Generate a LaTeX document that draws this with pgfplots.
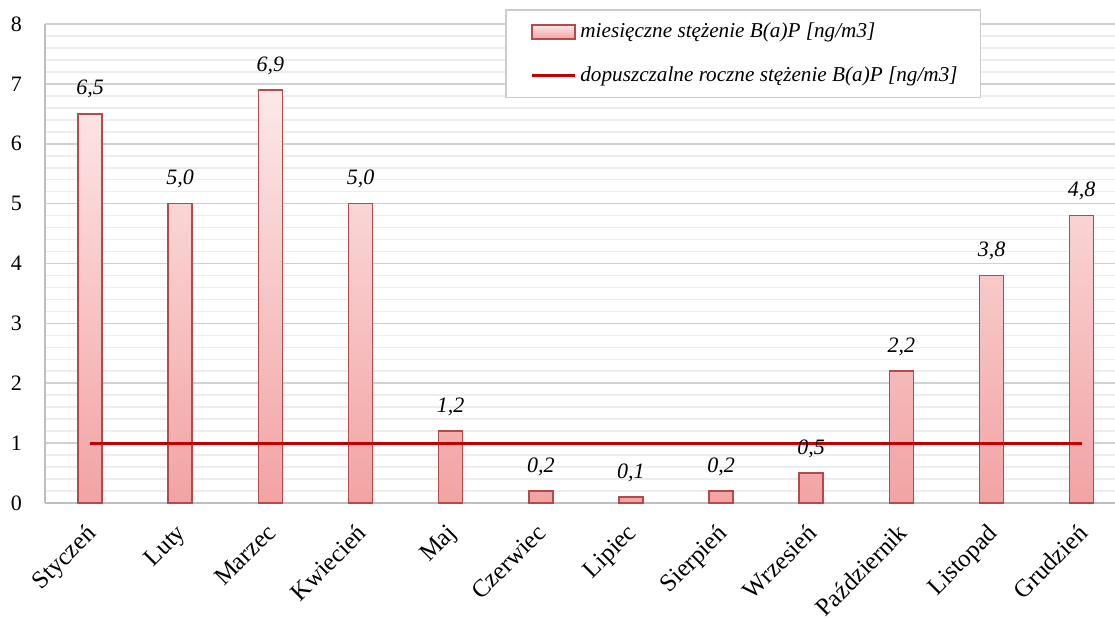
\documentclass[border=0pt]{standalone}
\usepackage{pgfplots}
\pgfplotsset{compat=1.18}
\usepackage{fontspec}
\setmainfont{Liberation Serif}
\definecolor{barborder}{HTML}{B54A4A}
\definecolor{bartop}{HTML}{FCE8E8}
\definecolor{barbot}{HTML}{F2A3A3}
\definecolor{limred}{HTML}{C00000}
\begin{document}
\begin{tikzpicture}
\begin{axis}[
 at={(0,0)}, anchor=south west,
 scale only axis, width=535pt, height=239.5pt,
 xmin=-0.5, xmax=11.37, ymin=0, ymax=8,
 xtick={0,...,11},
 xticklabels={Styczeń,Luty,Marzec,Kwiecień,Maj,Czerwiec,Lipiec,Sierpień,Wrzesień,Październik,Listopad,Grudzień},
 ytick={0,...,8}, minor y tick num=4,
 ymajorgrids, yminorgrids,
 major grid style={draw=black!18, line width=0.8pt},
 minor grid style={draw=black!7, line width=0.8pt},
 axis x line*=bottom, axis y line*=left,
 axis line style={draw=black!25, line width=0.8pt, -},
 major tick length=0pt, minor tick length=0pt,
 y tick label style={font=\fontsize{11}{12}\selectfont, xshift=-8pt},
 /pgf/number format/assume math mode=true,
 x tick label style={font=\fontsize{12.4}{14}\selectfont, xshift=-2.5pt, yshift=-6.8pt, rotate=45, anchor=north east, inner sep=2pt},
 legend cell align=left,
 legend style={at={(0.43,1.031)}, anchor=north west, draw=black!20, line width=0.8pt, fill=white,
   font=\itshape\fontsize{10.6}{12}\selectfont, row sep=9pt, inner xsep=9.5pt, inner ysep=4.5pt},
]
\addplot[ybar, bar width=12pt, draw=barborder, line width=0.8pt, top color=bartop, bottom color=barbot,
  nodes near coords={\pgfmathprintnumber[assume math mode=true,use comma,fixed,fixed zerofill,precision=1]{\pgfplotspointmeta}},
  every node near coord/.append style={font=\itshape\fontsize{11}{12}\selectfont, yshift=4pt},
  legend image code/.code={\path[draw=none,fill=none] (0pt,0pt) -- (3.5pt,0pt); \draw[draw=barborder, top color=bartop, bottom color=barbot, line width=0.8pt] (3.5pt,-3.5pt) rectangle (25pt,3.5pt);}]
 coordinates {(0,6.5) (1,5.0) (2,6.9) (3,5.0) (4,1.2) (5,0.2) (6,0.1) (7,0.2) (8,0.5) (9,2.2) (10,3.8) (11,4.8)};
\addlegendentry{miesięczne stężenie B(a)P [ng/m3]}
\addplot[sharp plot, draw=limred, line width=1.5pt,
  legend image code/.code={\path[draw=none,fill=none] (0pt,0pt) -- (3.5pt,0pt); \draw[draw=limred, line width=1.5pt] (3.5pt,0pt) -- (25pt,0pt);}]
 coordinates {(0,1) (11,1)};
\addlegendentry{dopuszczalne roczne stężenie B(a)P [ng/m3]}
\end{axis}
\pgfresetboundingbox
\useasboundingbox (-22.5pt,-57pt) rectangle (535pt,251.5pt);
\end{tikzpicture}
\end{document}
